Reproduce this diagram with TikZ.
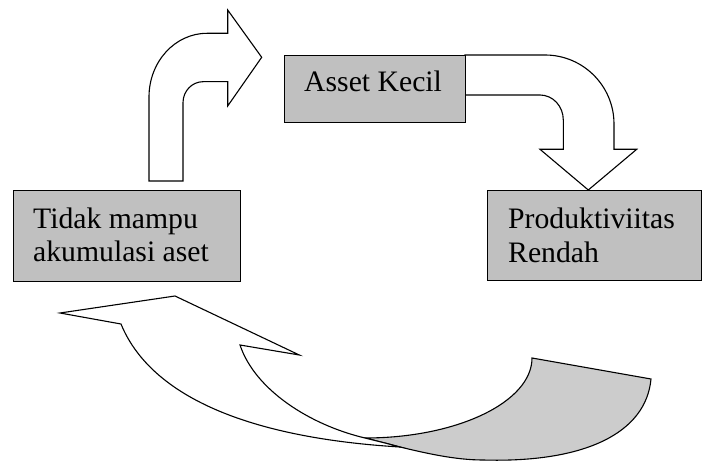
\documentclass[tikz,border=0pt]{standalone}
\usepackage{fontspec}
\setmainfont{Liberation Serif}
\definecolor{boxgray}{RGB}{192,192,192}
\definecolor{backgray}{RGB}{204,204,204}
\begin{document}
\begin{tikzpicture}[x=1pt,y=-1pt,
  box/.style={draw=black, fill=boxgray, line width=1.2pt, inner sep=0pt},
  blockarrow/.style={draw=black, fill=white, line width=1.1pt, line join=miter},
  backface/.style={draw=black, fill=backgray, line width=1.1pt, line join=miter},
  lbl/.style={anchor=base west, inner sep=0pt, font=\fontsize{29.7}{33}\selectfont}]
\useasboundingbox (0,0) rectangle (702,462);
% bent arrow up-right
\path[blockarrow] (149,181) -- (149,97)
  .. controls (149,61.7) and (175,33.3) .. (207,33.3)
  -- (227.7,33.3) -- (227.7,10) -- (261.7,57.3) -- (227.7,106) -- (227.7,81.7)
  -- (203,81.7) .. controls (192,81.7) and (183,91.1) .. (183,102.7)
  -- (183,181) -- cycle;
% bent arrow right-down
\path[blockarrow] (465,55) -- (545,55)
  .. controls (583.1,55) and (614,85.9) .. (614,124)
  -- (614,149.3) -- (636.7,149.3) -- (588.3,190) -- (540,149.3) -- (563.3,149.3)
  -- (563.3,120) .. controls (563.3,106.2) and (552.9,95) .. (540,95)
  -- (465,95) -- cycle;
% curved arrow, back face
\path[backface] (532,358) -- (651,379)
  .. controls (646,433) and (585,463) .. (483,460)
  .. controls (455,460) and (425,453) .. (400,447)
  .. controls (389,444) and (377,441) .. (365,438)
  .. controls (457,438) and (532,402) .. (532,358) -- cycle;
% curved arrow, front face
\path[blockarrow] (60,313) -- (175,296) -- (299.3,355) -- (240,345)
  .. controls (255,390) and (310,425) .. (365,438)
  .. controls (377,441) and (389,444) .. (400,447)
  .. controls (235,437) and (148,390) .. (121,324) -- cycle;
% boxes
\node[box, minimum width=227pt, minimum height=91pt, anchor=north west] (tidak) at (13,190) {};
\node[box, minimum width=181pt, minimum height=67pt, anchor=north west] (asset) at (284,55) {};
\node[box, minimum width=214pt, minimum height=90pt, anchor=north west] (produk) at (487,190) {};
% texts
\node[lbl] (t1) at (33,229) {Tidak mampu};
\node[lbl] (t2) at (33,262) {akumulasi aset};
\node[lbl] (a1) at (304,92) {Asset Kecil};
\node[lbl] (p1) at (508,229) {Produktiviitas};
\node[lbl] (p2) at (508,263) {Rendah};
\end{tikzpicture}
\end{document}
